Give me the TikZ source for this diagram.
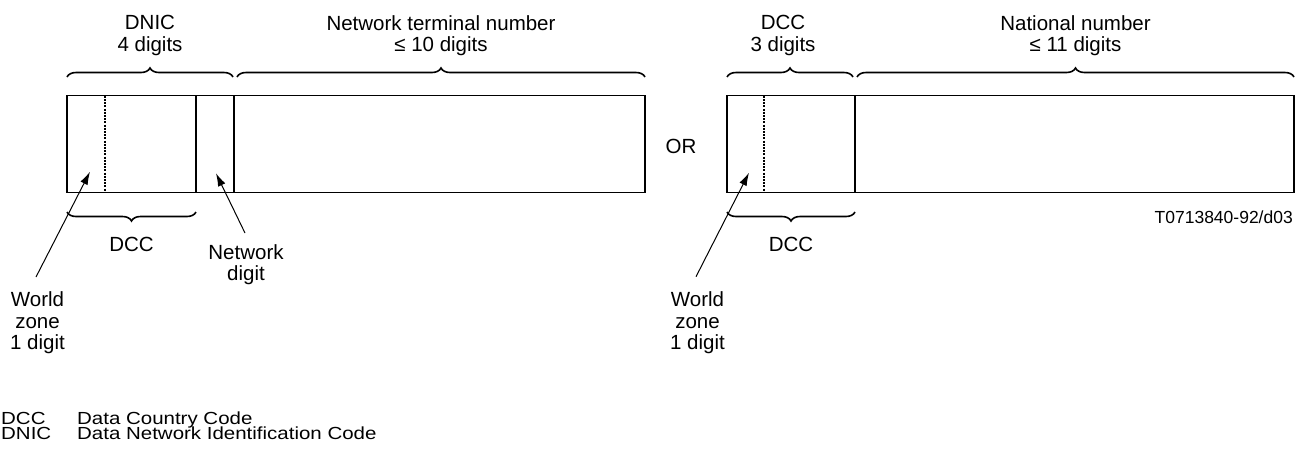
\documentclass[tikz,border=0pt]{standalone}
\usepackage{fontspec}
\setmainfont{Liberation Sans}
\newfontfamily\legendfont[FakeStretch=1.17]{Liberation Sans}
\usetikzlibrary{decorations.pathreplacing,arrows.meta}
\begin{document}
\begin{tikzpicture}[x=1pt,y=-1pt,
  lbl/.style={font=\fontsize{20.5}{21.5}\selectfont, inner sep=0pt, align=center, anchor=north},
  small/.style={font=\fontsize{17.5}{15}\selectfont, inner sep=0pt},
  legend/.style={font=\legendfont\fontsize{17.5}{15}\selectfont, inner sep=0pt, anchor=base west},
  frame/.style={line width=1.2pt},
  divider/.style={line width=2pt},
  dotdiv/.style={line width=2.2pt, dash pattern=on 2pt off 1.2pt},
  bracetop/.style={decorate, decoration={brace, amplitude=9pt}, line width=1.6pt},
  bracebot/.style={decorate, decoration={brace, amplitude=9pt, mirror}, line width=1.6pt},
  pointer/.style={line width=1pt, -{Latex[length=13pt,width=8pt]}}
]
\useasboundingbox (0,0) rectangle (1305,448);

% ---------- left format ----------
\draw[frame] (67,95.7) rectangle (645,192.3);
\draw[dotdiv] (105.3,95.7) -- (105.3,192.3);
\draw[divider] (196,95.7) -- (196,192.3);
\draw[divider] (233.7,95.7) -- (233.7,192.3);

\draw[bracetop] (67,77) -- (233,77);
\draw[bracetop] (237,77) -- (645,77);
\draw[bracebot] (67,212) -- (196,212);

\node[lbl] (dnic) at (150,15.3) {DNIC\\4 digits};
\node[lbl] (ntn) at (441,15.3) {Network terminal number\\≤ 10 digits};
\node[lbl] (dccL) at (131.5,236.5) {DCC};
\node[lbl] (netdig) at (246,244.3) {Network\\digit};
\node[lbl] (wzL) at (37.5,291.8) {World\\zone\\1 digit};

\coordinate (wzLtail) at (36,277);
\coordinate (wzLtip) at (90,171.7);
\coordinate (ndtail) at (245,233);
\coordinate (ndtip) at (216,173.3);
\draw[pointer] (wzLtail) -- (wzLtip);
\draw[pointer] (ndtail) -- (ndtip);

% ---------- OR ----------
\node[font=\fontsize{20.5}{21.5}\selectfont, inner sep=0pt, anchor=base] (or) at (681,153.3) {OR};

% ---------- right format ----------
\draw[frame] (727,95.7) rectangle (1294,192.3);
\draw[dotdiv] (764,95.7) -- (764,192.3);
\draw[divider] (855,95.7) -- (855,192.3);

\draw[bracetop] (727,77) -- (853,77);
\draw[bracetop] (857,77) -- (1294,77);
\draw[bracebot] (727,212) -- (855,212);

\node[lbl] (dccT) at (783,15.3) {DCC\\3 digits};
\node[lbl] (natn) at (1075.5,15.3) {National number\\≤ 11 digits};
\node[lbl] (dccR) at (791,236.5) {DCC};
\node[lbl] (wzR) at (697.5,291.8) {World\\zone\\1 digit};

\coordinate (wzRtail) at (696,276.7);
\coordinate (wzRtip) at (749,172.7);
\draw[pointer] (wzRtail) -- (wzRtip);

\node[small, anchor=base east] (ref) at (1293,223.3) {T0713840-92/d03};

% ---------- legend ----------
\node[legend] (k1) at (1,424) {DCC};
\node[legend] (k2) at (1,439.5) {DNIC};
\node[legend] (v1) at (77,424) {Data Country Code};
\node[legend] (v2) at (77,439.5) {Data Network Identification Code};
\end{tikzpicture}
\end{document}
